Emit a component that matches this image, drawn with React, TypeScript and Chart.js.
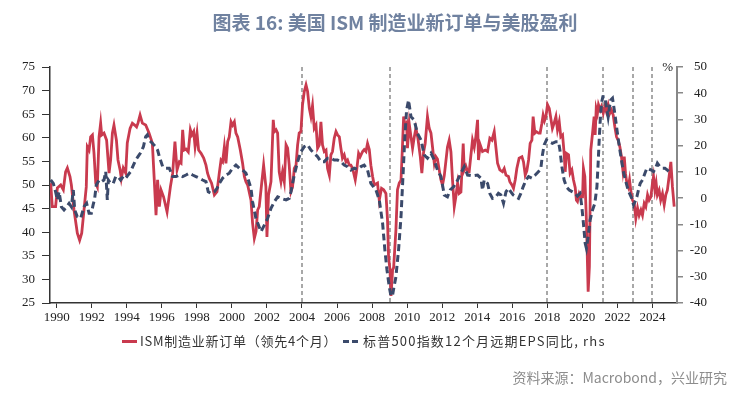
import React, { useEffect, useRef } from "react";
import { Chart, registerables } from "chart.js";

Chart.register(...registerables);

// ---- DATA ----
const xTickYears = [1990, 1992, 1994, 1996, 1998, 2000, 2002, 2004, 2006, 2008, 2010, 2012, 2014, 2016, 2018, 2020, 2022, 2024];
const markerYears = [2003.98, 2009.02, 2017.97, 2021.2, 2022.91, 2024.0];

const ismDates = [
  1989.66, 1989.75, 1989.94, 1990.04, 1990.23, 1990.38, 1990.51, 1990.61, 1990.76, 1990.84, 1990.99, 1991.18, 1991.31, 1991.43, 1991.56, 1991.69, 1991.75, 1991.85, 1991.94,
  1992.04, 1992.13, 1992.23, 1992.32, 1992.42, 1992.51, 1992.57, 1992.7, 1992.85, 1992.99, 1993.08, 1993.18, 1993.27, 1993.41, 1993.5, 1993.62, 1993.69, 1993.8, 1993.94,
  1994.03, 1994.19, 1994.32, 1994.45, 1994.56, 1994.64, 1994.76, 1994.89, 1995.08, 1995.27, 1995.46, 1995.57, 1995.67, 1995.76, 1995.86, 1995.96,
  1996.1, 1996.3, 1996.49, 1996.62, 1996.75, 1996.87, 1997.0, 1997.1, 1997.19, 1997.28, 1997.38, 1997.51, 1997.63, 1997.72, 1997.82, 1997.9,
  1998.01, 1998.1, 1998.24, 1998.39, 1998.52, 1998.61, 1998.71, 1998.84, 1999.0, 1999.15, 1999.28, 1999.38, 1999.47, 1999.57, 1999.66, 1999.76, 1999.85, 1999.95,
  2000.04, 2000.14, 2000.23, 2000.33, 2000.48, 2000.61, 2000.71, 2000.8, 2000.9, 2001.09, 2001.18, 2001.28, 2001.38, 2001.47, 2001.56, 2001.69, 2001.81, 2001.94,
  2002.0, 2002.09, 2002.23, 2002.36, 2002.42, 2002.52, 2002.61, 2002.7, 2002.8, 2002.89, 2002.99, 2003.09, 2003.18, 2003.27, 2003.37, 2003.46, 2003.56, 2003.66, 2003.75, 2003.84, 2003.94,
  2004.03, 2004.13, 2004.23, 2004.32, 2004.42, 2004.51, 2004.6, 2004.7, 2004.8, 2004.89, 2004.99, 2005.08, 2005.17, 2005.27, 2005.37, 2005.46, 2005.56, 2005.65, 2005.74, 2005.84, 2005.94,
  2006.03, 2006.13, 2006.22, 2006.31, 2006.41, 2006.51, 2006.6, 2006.7, 2006.79, 2006.89, 2007.04, 2007.11, 2007.23, 2007.32, 2007.46, 2007.55, 2007.65, 2007.74, 2007.84, 2007.93,
  2008.03, 2008.12, 2008.31, 2008.41, 2008.54, 2008.66, 2008.79, 2008.88, 2008.94, 2009.02, 2009.08, 2009.17, 2009.23, 2009.36, 2009.45, 2009.55, 2009.65, 2009.74, 2009.8, 2009.88, 2009.97,
  2010.02, 2010.12, 2010.22, 2010.31, 2010.4, 2010.5, 2010.61, 2010.75, 2010.84, 2010.94, 2011.03, 2011.16, 2011.26, 2011.36, 2011.45, 2011.55, 2011.64, 2011.73, 2011.83, 2011.93,
  2012.02, 2012.12, 2012.21, 2012.3, 2012.4, 2012.5, 2012.59, 2012.69, 2012.78, 2012.88, 2012.97, 2013.07, 2013.2, 2013.26, 2013.35, 2013.45, 2013.54, 2013.73, 2013.83, 2013.92,
  2014.02, 2014.07, 2014.17, 2014.3, 2014.46, 2014.59, 2014.72, 2014.84, 2014.97, 2015.07, 2015.16, 2015.29, 2015.44, 2015.54, 2015.64, 2015.78, 2015.86, 2015.98,
  2016.07, 2016.17, 2016.26, 2016.39, 2016.55, 2016.64, 2016.74, 2016.83, 2016.93, 2017.02, 2017.12, 2017.19, 2017.29, 2017.38, 2017.5, 2017.59, 2017.69, 2017.76, 2017.84, 2017.92,
  2018.01, 2018.11, 2018.2, 2018.29, 2018.39, 2018.49, 2018.58, 2018.68, 2018.77, 2018.87, 2018.96, 2019.02, 2019.09, 2019.21, 2019.3, 2019.4, 2019.49, 2019.59, 2019.66, 2019.72, 2019.82, 2019.91,
  2020.01, 2020.06, 2020.14, 2020.23, 2020.33, 2020.4, 2020.48, 2020.58, 2020.67, 2020.73, 2020.79, 2020.86, 2020.92, 2021.02, 2021.09, 2021.19, 2021.28, 2021.37, 2021.47, 2021.57, 2021.66, 2021.76, 2021.85, 2021.95,
  2022.04, 2022.14, 2022.23, 2022.31, 2022.39, 2022.46, 2022.54, 2022.62, 2022.69, 2022.77, 2022.86, 2022.96, 2023.05, 2023.15, 2023.24, 2023.34, 2023.43, 2023.53, 2023.62, 2023.72, 2023.81, 2023.91,
  2024.0, 2024.06, 2024.14, 2024.21, 2024.28, 2024.38, 2024.47, 2024.57, 2024.67, 2024.76, 2024.85, 2024.95, 2025.05, 2025.14, 2025.24,
];
const ismValues = [
  50.4, 45.4, 45.4, 49.4, 50.0, 49.0, 52.8, 53.6, 51.8, 50.0, 44.7, 39.8, 38.3, 39.8, 44.7, 49.6, 58.1, 57.4, 60.2,
  60.6, 56.8, 50.4, 49.6, 60.2, 63.1, 60.6, 61.0, 59.5, 52.5, 55.3, 61.0, 62.7, 59.5, 55.3, 53.2, 51.4, 53.6, 52.5,
  58.9, 62.0, 63.1, 62.7, 62.3, 63.1, 64.8, 63.1, 62.7, 61.0, 58.9, 51.1, 43.6, 51.1, 45.4, 48.9,
  47.5, 44.3, 49.6, 52.5, 59.2, 53.2, 54.9, 54.6, 61.7, 57.4, 57.6, 57.0, 61.7, 60.6, 61.3, 58.1,
  61.0, 57.4, 56.7, 55.7, 54.2, 52.5, 51.4, 50.4, 47.9, 48.6, 52.5, 55.3, 54.9, 58.1, 54.6, 59.2, 60.2, 63.4,
  62.7, 63.4, 61.0, 60.2, 57.4, 54.6, 51.8, 50.7, 50.0, 46.8, 41.9, 38.7, 40.2, 44.7, 45.4, 50.0, 54.2, 49.6,
  39.0, 47.9, 50.7, 63.8, 61.3, 61.7, 61.0, 52.8, 50.7, 52.8, 50.7, 58.5, 57.8, 54.2, 48.6, 49.6, 53.5, 54.2, 58.5, 61.0, 61.3,
  67.0, 69.8, 71.2, 69.8, 66.2, 64.5, 66.8, 62.0, 62.7, 57.8, 58.5, 63.4, 58.5, 57.1, 57.4, 53.5, 52.1, 56.4, 57.1, 59.9, 61.3,
  60.6, 60.2, 57.8, 55.7, 56.4, 54.9, 55.3, 54.2, 54.2, 53.5, 51.1, 52.8, 56.7, 56.0, 57.1, 57.5, 57.1, 58.8, 57.5, 54.2,
  51.8, 50.0, 50.4, 46.8, 49.3, 49.0, 48.2, 42.6, 34.8, 32.0, 26.5, 32.0, 32.5, 40.5, 49.0, 50.4, 51.0, 58.8, 64.5, 62.5, 63.1,
  57.8, 63.0, 60.2, 57.8, 60.0, 62.0, 60.0, 56.0, 52.5, 57.0, 58.8, 64.5, 62.0, 61.0, 58.0, 54.6, 56.0, 55.5, 53.2, 51.1,
  50.0, 52.0, 55.0, 58.0, 59.5, 57.0, 51.0, 45.4, 47.5, 50.4, 48.2, 48.5, 58.8, 53.2, 54.0, 52.8, 52.8, 59.5, 58.0, 60.2,
  63.8, 55.3, 58.5, 57.1, 57.4, 57.1, 59.9, 59.5, 61.3, 57.8, 54.6, 53.2, 52.8, 53.5, 52.1, 51.8, 50.7, 50.0,
  49.3, 51.1, 53.5, 55.7, 56.0, 54.9, 52.1, 53.0, 55.3, 58.8, 59.5, 64.5, 61.0, 61.3, 61.0, 61.0, 63.1, 64.8, 63.6, 64.5,
  67.0, 66.2, 64.1, 62.0, 63.1, 64.5, 61.7, 63.4, 60.2, 60.6, 56.7, 52.8, 56.7, 56.4, 52.5, 53.2, 51.1, 49.5, 46.8, 46.5, 48.2, 47.5,
  47.5, 53.5, 51.8, 42.6, 27.4, 32.7, 57.4, 61.0, 64.5, 60.6, 66.2, 65.2, 67.0, 65.9, 66.6, 65.2, 66.6, 65.5, 67.0, 65.2, 65.9, 64.8, 62.4, 60.2,
  59.5, 58.1, 56.0, 53.2, 56.0, 52.5, 50.4, 49.6, 51.1, 48.6, 46.8, 46.1, 42.9, 45.1, 43.6, 44.7, 43.6, 46.1, 45.4, 47.9, 46.8, 47.5,
  50.4, 51.8, 48.9, 50.4, 47.9, 48.9, 46.8, 48.2, 45.8, 47.9, 48.9, 51.8, 54.9, 49.6, 45.4,
];

const epsDates = [
  1989.66, 1989.81, 1989.94, 1990.04, 1990.14, 1990.27, 1990.42, 1990.57, 1990.71, 1990.84, 1990.95, 1991.03, 1991.18, 1991.37, 1991.56, 1991.71, 1991.85, 1991.98,
  1992.08, 1992.17, 1992.26, 1992.42, 1992.57, 1992.7, 1992.8, 1992.89, 1992.95, 1993.08, 1993.23, 1993.37, 1993.5, 1993.65, 1993.8, 1993.94,
  1994.07, 1994.22, 1994.38, 1994.51, 1994.64, 1994.77, 1994.95, 1995.08, 1995.17, 1995.27, 1995.46, 1995.65, 1995.76, 1995.86,
  1996.05, 1996.24, 1996.43, 1996.62, 1996.81, 1997.0, 1997.19, 1997.38, 1997.57, 1997.76, 1997.95, 1998.14, 1998.33, 1998.52, 1998.65, 1998.81,
  1999.0, 1999.15, 1999.28, 1999.47, 1999.66, 1999.85, 2000.04, 2000.23, 2000.42, 2000.61, 2000.8, 2000.94, 2001.09, 2001.18, 2001.37, 2001.66, 2001.85,
  2002.04, 2002.23, 2002.42, 2002.61, 2002.8, 2003.09, 2003.27, 2003.37, 2003.56, 2003.75, 2003.94, 2004.13, 2004.32, 2004.51, 2004.7, 2004.89,
  2005.08, 2005.27, 2005.46, 2005.65, 2005.84, 2006.03, 2006.22, 2006.41, 2006.6, 2006.79, 2006.98, 2007.17, 2007.36, 2007.55, 2007.74, 2007.93,
  2008.22, 2008.41, 2008.6, 2008.73, 2008.85, 2008.98, 2009.08, 2009.17, 2009.22, 2009.36, 2009.51, 2009.65, 2009.78, 2009.87, 2009.97,
  2010.08, 2010.22, 2010.4, 2010.59, 2010.79, 2010.98, 2011.16, 2011.36, 2011.55, 2011.73, 2011.93, 2012.12, 2012.3, 2012.46, 2012.65, 2012.84,
  2013.07, 2013.26, 2013.45, 2013.73, 2014.02, 2014.21, 2014.3, 2014.4, 2014.59, 2014.72, 2014.87, 2015.07, 2015.21, 2015.35, 2015.5, 2015.64, 2015.78, 2015.92,
  2016.05, 2016.21, 2016.36, 2016.49, 2016.62, 2016.78, 2016.93, 2017.12, 2017.31, 2017.5, 2017.63, 2017.72, 2017.82, 2017.95,
  2018.1, 2018.29, 2018.49, 2018.64, 2018.72, 2018.83, 2018.96, 2019.09, 2019.25, 2019.44, 2019.59, 2019.72, 2019.87, 2019.97,
  2020.06, 2020.16, 2020.23, 2020.33, 2020.44, 2020.58, 2020.71, 2020.83, 2020.9, 2020.96, 2021.02, 2021.09, 2021.17, 2021.28, 2021.37, 2021.47, 2021.55, 2021.62, 2021.72, 2021.78, 2021.85, 2021.95,
  2022.04, 2022.14, 2022.23, 2022.34, 2022.48, 2022.61, 2022.73, 2022.82, 2022.92, 2023.0, 2023.11, 2023.2, 2023.3, 2023.43, 2023.57, 2023.68, 2023.82, 2023.94,
  2024.06, 2024.19, 2024.28, 2024.42, 2024.57, 2024.71, 2024.85, 2025.01,
];
const epsValues = [
  6.9, 5.6, 2.4, -0.7, 2.4, -3.3, -4.5, -3.3, -2.0, -3.3, 3.1, -4.5, -7.1, -7.7, -3.3, -2.0, -5.8, -5.8,
  -2.6, -0.1, 5.0, 6.9, 6.3, 6.9, 10.1, -0.7, 6.9, 5.6, 5.6, 8.2, 8.2, 6.9, 8.2, 7.5,
  8.8, 10.1, 12.6, 14.5, 15.8, 17.1, 19.6, 23.4, 24.1, 22.2, 20.9, 19.6, 18.3, 15.8,
  12.0, 11.4, 11.4, 8.2, 8.2, 8.8, 8.2, 8.8, 9.5, 8.8, 8.2, 7.6, 6.9, 6.3, 2.4, 1.8,
  2.4, 3.7, 5.6, 7.6, 8.8, 9.5, 11.4, 12.6, 11.4, 10.7, 9.5, 6.9, 3.7, -1.4, -7.7, -12.8, -10.3,
  -7.7, -3.9, -1.4, 0.5, -0.1, -0.7, -0.1, 2.4, 8.8, 13.9, 17.7, 19.6, 20.3, 18.3, 17.1, 15.8,
  13.9, 13.9, 15.2, 15.2, 14.5, 14.5, 13.9, 12.6, 12.0, 10.7, 11.4, 11.0, 12.0, 12.6, 10.7, 5.6,
  3.1, -0.7, -9.6, -19.8, -27.4, -33.8, -37.5, -37.0, -35.0, -30.0, -19.8, -7.1, 10.7, 23.4, 33.6,
  37.4, 31.0, 29.8, 24.7, 22.2, 16.4, 15.2, 17.1, 14.5, 10.7, 8.2, 1.2, 0.5, 3.1, 4.3, 6.3,
  9.5, 12.0, 8.8, 8.5, 8.8, 7.6, 3.1, 6.9, 5.6, 1.8, -0.1, 0.5, 1.8, 1.2, -2.0, 2.4, 3.7, 2.4,
  1.2, 0.5, -0.1, 1.8, 4.3, 6.9, 8.2, 7.6, 8.8, 10.1, 11.4, 16.4, 20.3, 22.2,
  21.5, 20.9, 21.5, 21.5, 18.3, 12.0, 6.9, 4.3, 3.1, 2.4, 1.8, 0.8, 1.8, -3.3,
  -9.6, -17.2, -19.1, -14.7, -8.4, -4.5, -2.0, 4.3, 13.3, 22.2, 29.8, 36.2, 38.7, 38.7, 34.9, 31.0, 34.9, 37.4, 38.1, 35.5, 32.3, 27.2,
  22.8, 18.3, 14.5, 10.1, 6.3, 3.1, 1.2, -0.1, -2.6, -1.4, 0.5, 3.1, 5.6, 6.9, 9.5, 11.4, 11.0, 10.7,
  10.1, 11.7, 13.3, 12.0, 11.4, 11.4, 10.7, 9.5,
];

const RED = "#c93a4e";
const BLUE = "#3b4a6b";
const TICK_FONT = { family: "'Liberation Serif', 'DejaVu Serif', serif", size: 13 };

const overlayPlugin = {
  id: "overlay",
  beforeDatasetsDraw(chart: any) {
    const { ctx, chartArea, scales } = chart;
    ctx.save();
    ctx.strokeStyle = "#8c8c8c";
    ctx.lineWidth = 1.5;
    ctx.setLineDash([4, 3]);
    markerYears.forEach((yr) => {
      const x = Math.round(scales.x.getPixelForValue(yr));
      ctx.beginPath();
      ctx.moveTo(x, chartArea.top);
      ctx.lineTo(x, chartArea.bottom);
      ctx.stroke();
    });
    ctx.restore();
  },
  afterDraw(chart: any) {
    const { ctx, chartArea } = chart;
    ctx.save();
    ctx.fillStyle = "#222";
    ctx.font = "13px 'Liberation Serif', serif";
    ctx.textAlign = "right";
    ctx.textBaseline = "middle";
    ctx.fillText("%", chartArea.right - 4, chartArea.top + 1);
    ctx.restore();
  },
};

export default function App() {
  const canvasRef = useRef<HTMLCanvasElement | null>(null);

  useEffect(() => {
    if (!canvasRef.current) return;
    const chart = new Chart(canvasRef.current, {
      type: "line",
      data: {
        datasets: [
          {
            label: "ISM制造业新订单（领先4个月）",
            data: ismDates.map((d, i) => ({ x: d, y: ismValues[i] })),
            yAxisID: "y",
            borderColor: RED,
            backgroundColor: RED,
            borderWidth: 2.8,
            pointRadius: 0,
            tension: 0,
            order: 1,
          },
          {
            label: "标普500指数12个月远期EPS同比, rhs",
            data: epsDates.map((d, i) => ({ x: d, y: epsValues[i] })),
            yAxisID: "y1",
            borderColor: BLUE,
            backgroundColor: BLUE,
            borderWidth: 3,
            borderDash: [7, 4],
            pointRadius: 0,
            tension: 0,
            order: 0,
          },
        ],
      },
      options: {
        responsive: false,
        animation: false,
        devicePixelRatio: 1,
        layout: { padding: { left: 0, right: 40, top: 67, bottom: 0 } },
        plugins: { legend: { display: false }, title: { display: false }, tooltip: { enabled: false } },
        scales: {
          x: {
            type: "linear",
            min: 1989.62,
            max: 2025.4,
            afterBuildTicks: (scale: any) => {
              scale.ticks = xTickYears.map((v) => ({ value: v }));
            },
            afterFit: (scale: any) => {
              scale.height = 94;
            },
            ticks: {
              font: TICK_FONT,
              color: "#222",
              padding: 2,
              maxRotation: 0,
              autoSkip: false,
              callback: (v: any) => String(v),
            },
            grid: { drawOnChartArea: false, drawTicks: true, tickLength: 5, color: "#333", lineWidth: 1 },
            border: { display: true, color: "#333", width: 1.5 },
          },
          y: {
            position: "left",
            min: 25,
            max: 75,
            afterFit: (scale: any) => {
              scale.width = 50;
            },
            ticks: { stepSize: 5, font: TICK_FONT, color: "#222", padding: 7 },
            grid: { drawOnChartArea: false, tickLength: 8, color: "#333", lineWidth: 1 },
            border: { display: true, color: "#333", width: 1.5 },
          },
          y1: {
            position: "right",
            min: -40,
            max: 50,
            afterFit: (scale: any) => {
              scale.width = 30;
            },
            ticks: { stepSize: 10, font: TICK_FONT, color: "#222", crossAlign: "far" },
            grid: { drawOnChartArea: false, tickLength: 6, color: "#888", lineWidth: 1.5 },
            border: { display: true, color: "#888", width: 2 },
          },
        },
      },
      plugins: [overlayPlugin],
    } as any);
    return () => chart.destroy();
  }, []);

  const cjk = "'Noto Sans CJK SC', 'Noto Sans', sans-serif";

  return (
    <div style={{ position: "absolute", left: 0, top: 0, width: 747, height: 397, background: "#fff", overflow: "hidden" }}>
      <canvas ref={canvasRef} width={747} height={397} style={{ position: "absolute", left: 0, top: 0, width: 747, height: 397 }} />
      <div
        style={{
          position: "absolute",
          left: 0,
          width: 790,
          top: 10,
          textAlign: "center",
          fontFamily: cjk,
          fontWeight: 700,
          fontSize: 19,
          lineHeight: "24px",
          color: "#7082a0",
          whiteSpace: "nowrap",
        }}
      >
        图表 16: 美国 ISM 制造业新订单与美股盈利
      </div>
      <div style={{ position: "absolute", left: 122, top: 340, width: 15, height: 3, background: RED }} />
      <div
        style={{
          position: "absolute",
          left: 140,
          top: 332,
          fontFamily: cjk,
          fontSize: 13,
          lineHeight: "18px",
          letterSpacing: "0.75px",
          color: "#333",
          whiteSpace: "nowrap",
        }}
      >
        ISM制造业新订单（领先4个月）
      </div>
      <div style={{ position: "absolute", left: 343, top: 340, width: 6, height: 3, background: BLUE }} />
      <div style={{ position: "absolute", left: 352, top: 340, width: 6, height: 3, background: BLUE }} />
      <div
        style={{
          position: "absolute",
          left: 363,
          top: 332,
          fontFamily: cjk,
          fontSize: 13,
          lineHeight: "18px",
          letterSpacing: "1.2px",
          color: "#333",
          whiteSpace: "nowrap",
        }}
      >
        标普500指数12个月远期EPS同比, rhs
      </div>
      <div
        style={{
          position: "absolute",
          right: 20,
          top: 367,
          fontFamily: cjk,
          fontSize: 14,
          lineHeight: "20px",
          color: "#8c8c8c",
          whiteSpace: "nowrap",
        }}
      >
        资料来源：Macrobond，兴业研究
      </div>
    </div>
  );
}
